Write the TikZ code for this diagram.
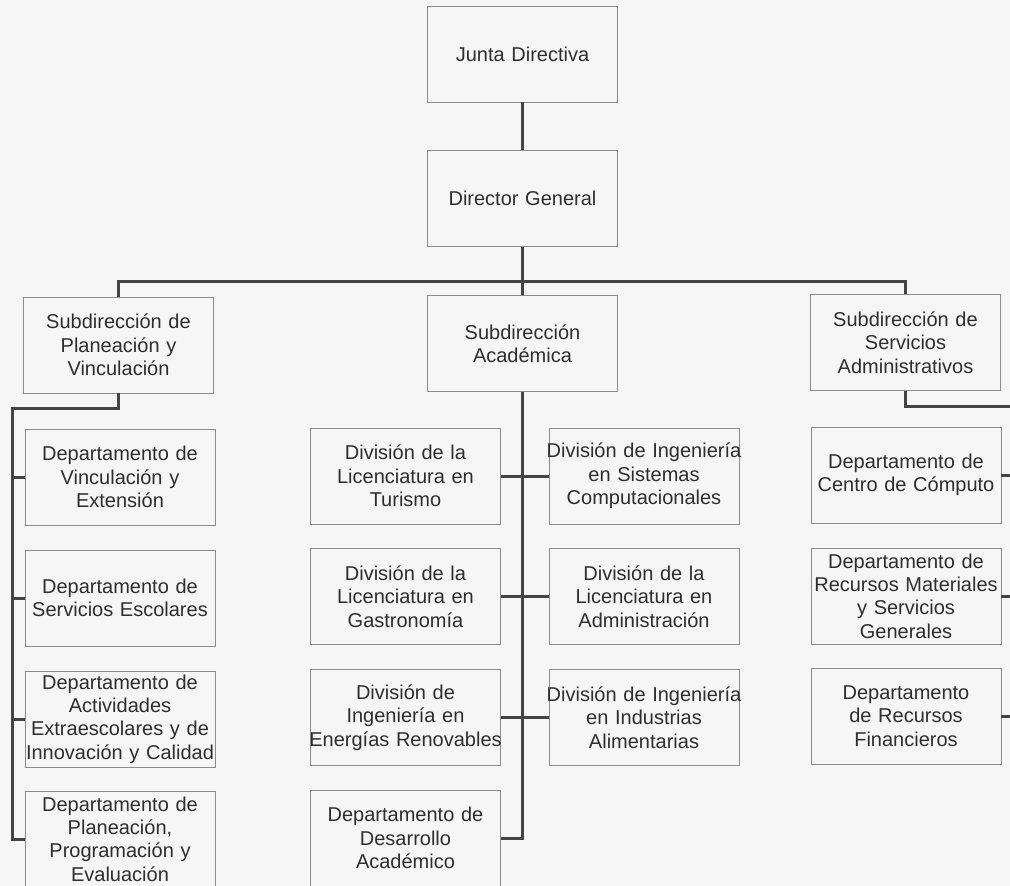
\documentclass[tikz,border=0pt]{standalone}
\usepackage{fontspec}
\setmainfont{Liberation Sans}
\definecolor{bg}{HTML}{F6F6F6}
\definecolor{boxline}{HTML}{8C8C8C}
\definecolor{conn}{HTML}{444444}
\definecolor{txt}{HTML}{2E2E2E}
\newcommand{\wide}[1]{\makebox[0pt][c]{#1}}
\begin{document}
\begin{tikzpicture}[x=1pt,y=-1pt,
  box/.style={draw=boxline, line width=0.9pt, fill=bg, text=txt, align=center,
    text width=190pt, minimum height=96pt, inner sep=0pt,
    font=\fontsize{20}{23.3}\selectfont},
  link/.style={draw=conn, line width=3pt}]
\useasboundingbox (0,0) rectangle (1010,886);
\fill[bg] (0,0) rectangle (1010,886);

% top
\node[box] (junta) at (522.5,54) {Junta Directiva};
\node[box] (dir) at (522.5,198.5) {Director General};
% subdirecciones
\node[box] (sa) at (118.5,345) {Subdirección de\\Planeación y\\Vinculación};
\node[box] (sb) at (522.5,343.5) {Subdirección\\Académica};
\node[box] (sc) at (905.5,342.5) {Subdirección de\\Servicios\\Administrativos};
% left column
\node[box] (l1) at (120,477) {Departamento de\\Vinculación y\\Extensión};
\node[box] (l2) at (120,598) {Departamento de\\Servicios Escolares};
\node[box] (l3) at (120,719) {Departamento de\\Actividades\\Extraescolares y de\\\wide{Innovación y Calidad}};
\node[box] (l4) at (120,839) {Departamento de\\Planeación,\\Programación y\\Evaluación};
% middle left column
\node[box] (m1) at (405.5,476) {División de la\\Licenciatura en\\Turismo};
\node[box] (m2) at (405.5,596.5) {División de la\\Licenciatura en\\Gastronomía};
\node[box] (m3) at (405.5,717.5) {División de\\Ingeniería en\\\wide{Energías Renovables}};
\node[box] (m4) at (405.5,838) {Departamento de\\Desarrollo\\Académico};
% middle right column
\node[box] (n1) at (644,476) {\wide{División de Ingeniería}\\en Sistemas\\Computacionales};
\node[box] (n2) at (644,596.5) {División de la\\Licenciatura en\\Administración};
\node[box] (n3) at (644,717.5) {\wide{División de Ingeniería}\\en Industrias\\Alimentarias};
% right column
\node[box] (r1) at (906,475) {Departamento de\\Centro de Cómputo};
\node[box] (r2) at (906,596) {Departamento de\\\wide{Recursos Materiales}\\y Servicios\\Generales};
\node[box] (r3) at (906,716) {Departamento\\de Recursos\\Financieros};

% connectors
\coordinate (bus) at (522.5,281);
\draw[link] (junta.south) -- (dir.north);
\draw[link] (dir.south) -- (bus);
\draw[link] (sa.north) |- (bus) -| (sc.north);
\draw[link] (bus) -- (sb.north);

\coordinate (la) at (12,408);
\draw[link] (sa.south) |- (la) |- (l4.west);
\foreach \i in {l1,l2,l3} \draw[link] (la |- \i.west) -- (\i.west);

\draw[link] (sb.south) |- (m4.east);
\draw[link] (m1.east) -- (n1.west);
\draw[link] (m2.east) -- (n2.west);
\draw[link] (m3.east) -- (n3.west);

\coordinate (ra) at (1013,406);
\draw[link] (sc.south) |- (ra) -- (ra |- r3.east);
\foreach \i in {r1,r2,r3} \draw[link] (\i.east) -- (ra |- \i.east);
\end{tikzpicture}
\end{document}
